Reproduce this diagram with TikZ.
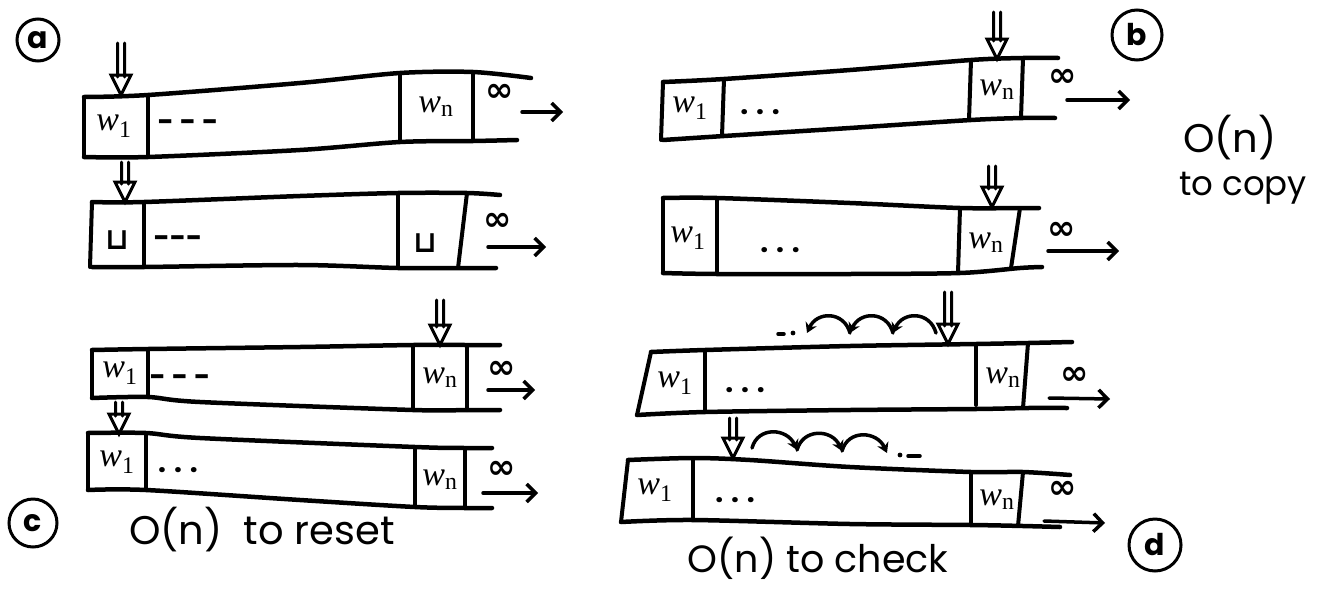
\documentclass[tikz,border=0pt]{standalone}
\usepackage{fontspec}
\setmainfont{Poppins}
\newfontfamily\mathish{Liberation Serif}
\newfontfamily\symf{DejaVu Sans}
\newcommand{\wsub}[1]{{\mathish\itshape w}\textsubscript{\mathish #1}}
\usetikzlibrary{calc,arrows.meta}
\begin{document}
\begin{tikzpicture}[x=1pt,y=-1pt,
  tape/.style={line width=4.5pt, line cap=round, line join=round},
  bar/.style={line width=4pt, line cap=round},
  lbl/.style={font=\fontsize{34}{34}\selectfont, inner sep=0pt},
  dts/.style={font=\fontsize{28}{28}\selectfont\bfseries, inner sep=0pt},
  inf/.style={font=\symf\bfseries\fontsize{34}{34}\selectfont, inner sep=0pt},
  tail/.style={line width=3.5pt, line cap=round, -{Straight Barb[length=9pt,width=18pt,line width=3.5pt]}},
  ptr/.style={line width=3pt, line join=miter, line cap=round, to path={
    ($(\tikztostart)+(-3.5,0)$) -- ($(\tikztotarget)+(-3.5,-18)$)
    ($(\tikztostart)+(3.5,0)$) -- ($(\tikztotarget)+(3.5,-18)$)
    ($(\tikztotarget)+(-10,-20)$) -- (\tikztotarget) -- ($(\tikztotarget)+(10,-20)$) -- cycle}},
  hop/.style={line width=3.5pt, line cap=round, -{Stealth[length=10pt,width=12pt]}},
  circ/.style={draw, circle, line width=3pt, inner sep=0pt, font=\fontsize{30}{30}\selectfont\bfseries},
  note/.style={font=\fontsize{40}{40}\selectfont, inner sep=0pt}
]
\useasboundingbox (0,0) rectangle (1329,589);

% ---------------- (a) ----------------
\node[circ, minimum size=42pt] (la) at (38,40) {a};
% tape a1
\draw[tape] plot[smooth, tension=0.5] coordinates {(84,97) (148,95) (300,83) (400,73) (473,72) (531,78)};
\draw[tape] plot[smooth, tension=0.5] coordinates {(84,157) (148,157) (300,150) (400,142) (473,141) (517,140)};
\draw[bar] (84,97) -- (84,157);
\draw[bar] (148,95) -- (148,157);
\draw[bar] (400,73) -- (400,142);
\draw[bar] (473,72) -- (473,141);
\node[lbl] (a1w1) at (114,126) {\wsub{1}};
\node[dts] (a1d) at (188,126) {- - -};
\node[lbl] (a1wn) at (436,107) {\wsub{n}};
\node[inf] (a1inf) at (500,93) {∞};
\coordinate (a1t0) at (522,112); \coordinate (a1t1) at (563,112);
\draw[tail] (a1t0) -- (a1t1);
\coordinate (a1p0) at (121,43); \coordinate (a1p1) at (121,95);
\draw[ptr] (a1p0) to (a1p1);
% tape a2
\draw[tape] plot[smooth, tension=0.5] coordinates {(92,202) (144,202) (300,196) (398,193) (467,193) (500,195)};
\draw[tape] plot[smooth, tension=0.5] coordinates {(92,267) (144,267) (300,265) (398,268) (458,268) (496,268)};
\draw[bar] (92,202) -- (90,267);
\draw[bar] (144,202) -- (144,267);
\draw[bar] (398,193) -- (398,268);
\draw[bar] (467,193) -- (458,268);
\node[lbl, font=\symf\bfseries\fontsize{30}{30}\selectfont] (a2b1) at (117,240) {⊔};
\node[dts] (a2d) at (178,242) {-{}-{}-};
\node[lbl, font=\symf\bfseries\fontsize{30}{30}\selectfont] (a2bn) at (425,243) {⊔};
\node[inf] (a2inf) at (498,222) {∞};
\coordinate (a2t0) at (488,247); \coordinate (a2t1) at (546,247);
\draw[tail] (a2t0) -- (a2t1);
\coordinate (a2p0) at (125,162); \coordinate (a2p1) at (125,202);
\draw[ptr] (a2p0) to (a2p1);

% ---------------- (c) ----------------
\draw[tape] plot[smooth, tension=0.5] coordinates {(92,350) (148,349) (300,347) (413,345) (467,345) (500,345)};
\draw[tape] plot[smooth, tension=0.5] coordinates {(92,398) (148,397) (200,402) (413,410) (467,410) (500,410)};
\draw[bar] (92,350) -- (92,398);
\draw[bar] (148,349) -- (148,397);
\draw[bar] (413,345) -- (413,410);
\draw[bar] (467,345) -- (467,410);
\node[lbl] (c1w1) at (120,373) {\wsub{1}};
\node[dts] (c1d) at (180,381) {- - -};
\node[lbl] (c1wn) at (440,378) {\wsub{n}};
\node[inf] (c1inf) at (502,370) {∞};
\coordinate (c1t0) at (488,390); \coordinate (c1t1) at (535,390);
\draw[tail] (c1t0) -- (c1t1);
\coordinate (c1p0) at (440,300); \coordinate (c1p1) at (440,345);
\draw[ptr] (c1p0) to (c1p1);
% tape c2
\draw[tape] plot[smooth, tension=0.5] coordinates {(88,433) (146,433) (200,438) (415,447) (465,448) (492,448)};
\draw[tape] plot[smooth, tension=0.5] coordinates {(88,490) (146,490) (300,500) (415,507) (465,508) (492,508)};
\draw[bar] (88,433) -- (88,490);
\draw[bar] (146,433) -- (146,490);
\draw[bar] (415,447) -- (415,507);
\draw[bar] (465,448) -- (465,508);
\node[lbl] (c2w1) at (117,462) {\wsub{1}};
\node[dts] (c2d) at (178,470) {. . .};
\node[lbl] (c2wn) at (440,480) {\wsub{n}};
\node[inf] (c2inf) at (502,470) {∞};
\coordinate (c2t0) at (483,493); \coordinate (c2t1) at (538,493);
\draw[tail] (c2t0) -- (c2t1);
\coordinate (c2p0) at (119,402); \coordinate (c2p1) at (119,434);
\draw[ptr] (c2p0) to (c2p1);
\node[circ, minimum size=48pt] (lc) at (33,523) {c};
\node[note] (costc) at (262,530) {O(n)\ \ to reset};

% ---------------- (b) ----------------
\node[circ, minimum size=50pt] (lb) at (1137,35) {b};
\draw[tape] plot[smooth, tension=0.5] coordinates {(663,82) (724,79) (850,70) (971,60) (1023,58) (1058,58)};
\draw[tape] plot[smooth, tension=0.5] coordinates {(663,140) (724,136) (850,128) (971,120) (1023,118) (1055,118)};
\draw[bar] (663,82) -- (661,140);
\draw[bar] (724,79) -- (722,136);
\draw[bar] (971,60) -- (969,120);
\draw[bar] (1023,58) -- (1021,118);
\node[lbl] (b1w1) at (690,108) {\wsub{1}};
\node[dts] (b1d) at (760,112) {. . .};
\node[lbl] (b1wn) at (997,90) {\wsub{n}};
\node[inf] (b1inf) at (1063,78) {∞};
\coordinate (b1t0) at (1067,100); \coordinate (b1t1) at (1130,100);
\draw[tail] (b1t0) -- (b1t1);
\coordinate (b1p0) at (997,12); \coordinate (b1p1) at (997,59);
\draw[ptr] (b1p0) to (b1p1);
\node[note] (costb1) at (1230,138) {O(n)};
\node[note, font=\fontsize{34}{34}\selectfont] (costb2) at (1243,188) {to copy};
% tape b2
\draw[tape] plot[smooth, tension=0.5] coordinates {(663,198) (717,198) (850,203) (960,208) (1020,208) (1039,208)};
\draw[tape] plot[smooth, tension=0.5] coordinates {(663,273) (717,274) (850,274) (960,273) (1020,268) (1042,267)};
\draw[bar] (663,198) -- (663,273);
\draw[bar] (717,198) -- (717,274);
\draw[bar] (960,208) -- (958,273);
\draw[bar] (1020,208) -- (1011,268);
\node[lbl] (b2w1) at (688,238) {\wsub{1}};
\node[dts] (b2d) at (780,250) {. . .};
\node[lbl] (b2wn) at (986,243) {\wsub{n}};
\node[inf] (b2inf) at (1062,231) {∞};
\coordinate (b2t0) at (1048,251); \coordinate (b2t1) at (1119,251);
\draw[tail] (b2t0) -- (b2t1);
\coordinate (b2p0) at (992,166); \coordinate (b2p1) at (992,207);
\draw[ptr] (b2p0) to (b2p1);

% ---------------- (d) ----------------
\draw[tape] plot[smooth, tension=0.5] coordinates {(651,352) (705,350) (850,346) (976,344) (1028,343) (1072,342)};
\draw[tape] plot[smooth, tension=0.5] coordinates {(637,415) (705,412) (850,410) (976,409) (1028,408) (1067,408)};
\draw[bar] (651,352) -- (637,415);
\draw[bar] (705,350) -- (705,412);
\draw[bar] (976,344) -- (976,405);
\draw[bar] (1028,343) -- (1023,408);
\node[lbl] (d1w1) at (675,383) {\wsub{1}};
\node[dts] (d1d) at (745,390) {. . .};
\node[lbl] (d1wn) at (1003,378) {\wsub{n}};
\node[inf] (d1inf) at (1075,376) {∞};
\coordinate (d1t0) at (1049,398); \coordinate (d1t1) at (1110,399);
\draw[tail] (d1t0) -- (d1t1);
\coordinate (d1p0) at (948,292); \coordinate (d1p1) at (948,344);
\draw[ptr] (d1p0) to (d1p1);
% hops leftward
\coordinate (h0) at (936,333); \coordinate (h1) at (893,333);
\coordinate (h2) at (850,333); \coordinate (h3) at (807,333);
\draw[hop] (h0) .. controls +(-6,-22) and +(10,-22) .. (h1);
\draw[hop] (h1) .. controls +(-6,-22) and +(10,-22) .. (h2);
\draw[hop] (h2) .. controls +(-6,-22) and +(10,-22) .. (h3);
\fill (793,333) circle (2.4pt);
\draw[line width=3.5pt, line cap=round] (778,334) -- (784,334);
% tape d2
\draw[tape] plot[smooth, tension=0.5] coordinates {(628,460) (693,458) (750,460) (850,467) (971,472) (1023,472) (1070,475)};
\draw[tape] plot[smooth, tension=0.5] coordinates {(621,522) (693,520) (850,524) (971,525) (1023,526) (1060,527)};
\draw[bar] (628,460) -- (621,522);
\draw[bar] (693,458) -- (693,520);
\draw[bar] (971,472) -- (971,525);
\draw[bar] (1023,472) -- (1018,526);
\node[lbl] (d2w1) at (655,490) {\wsub{1}};
\node[dts] (d2d) at (735,500) {. . .};
\node[lbl] (d2wn) at (997,500) {\wsub{n}};
\node[inf] (d2inf) at (1063,490) {∞};
\coordinate (d2t0) at (1044,521); \coordinate (d2t1) at (1105,523);
\draw[tail] (d2t0) -- (d2t1);
\coordinate (d2p0) at (733,418); \coordinate (d2p1) at (733,458);
\draw[ptr] (d2p0) to (d2p1);
% hops rightward
\coordinate (k0) at (752,448); \coordinate (k1) at (797,450);
\coordinate (k2) at (842,451); \coordinate (k3) at (887,453);
\draw[hop] (k0) .. controls +(6,-22) and +(-10,-22) .. (k1);
\draw[hop] (k1) .. controls +(6,-22) and +(-10,-22) .. (k2);
\draw[hop] (k2) .. controls +(6,-22) and +(-10,-22) .. (k3);
\fill (900,455) circle (2.4pt);
\draw[line width=3.5pt, line cap=round] (908,456) -- (920,456);
\node[circ, minimum size=52pt] (ld) at (1155,545) {d};
\node[note, font=\fontsize{38}{38}\selectfont] (costd) at (818,558) {O(n) to check};
\end{tikzpicture}
\end{document}
